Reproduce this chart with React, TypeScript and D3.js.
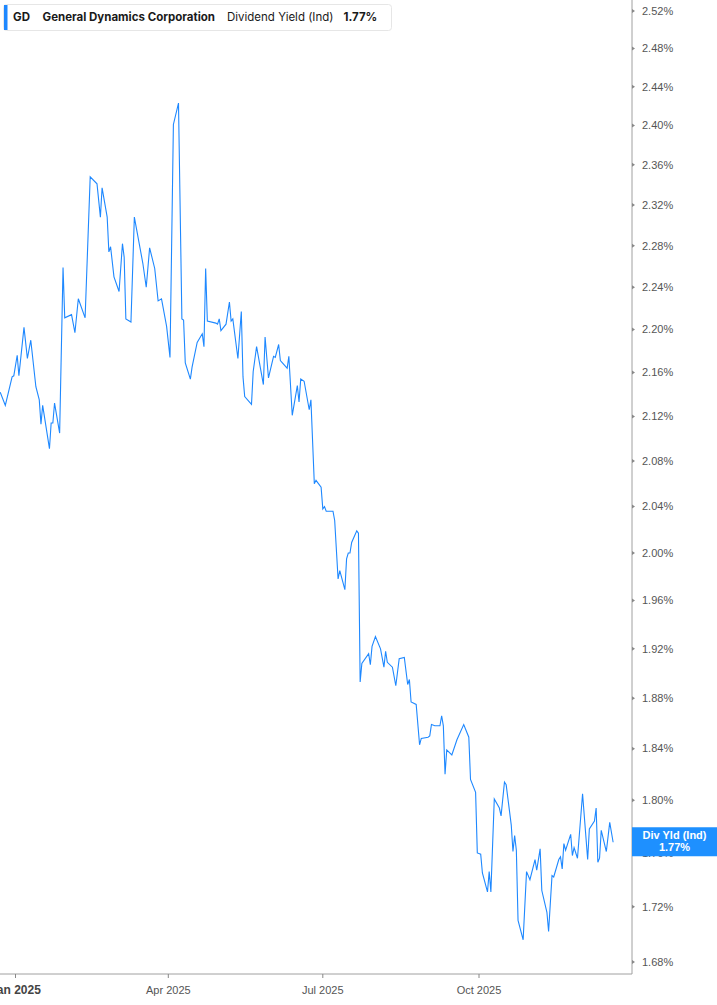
import { line, scaleLog, scaleUtc, utcParse } from 'd3';
import React from 'react';

const WIDTH = 717;
const HEIGHT = 1005;
const PLOT_RIGHT = 632;
const PLOT_BOTTOM = 974;
const LINE_COLOR = '#1e88ff';

// Dividend yield (indicated), %
const dates = [
  '2024-12-23', '2024-12-26', '2024-12-30', '2024-12-31', '2025-01-02', '2025-01-03', '2025-01-06', '2025-01-08',
  '2025-01-10', '2025-01-13', '2025-01-15', '2025-01-16', '2025-01-17', '2025-01-21', '2025-01-22', '2025-01-23',
  '2025-01-24', '2025-01-27', '2025-01-29', '2025-01-30', '2025-02-03', '2025-02-05', '2025-02-07', '2025-02-11',
  '2025-02-14', '2025-02-18', '2025-02-20', '2025-02-21', '2025-02-24', '2025-02-25', '2025-02-26', '2025-02-28',
  '2025-03-03', '2025-03-05', '2025-03-06', '2025-03-07', '2025-03-10', '2025-03-12', '2025-03-17', '2025-03-19',
  '2025-03-21', '2025-03-24', '2025-03-26', '2025-03-28', '2025-03-31', '2025-04-02', '2025-04-04', '2025-04-07',
  '2025-04-09', '2025-04-10', '2025-04-11', '2025-04-14', '2025-04-15', '2025-04-18', '2025-04-21', '2025-04-22',
  '2025-04-23', '2025-04-24', '2025-04-29', '2025-04-30', '2025-05-01', '2025-05-02', '2025-05-05', '2025-05-07',
  '2025-05-08', '2025-05-09', '2025-05-12', '2025-05-14', '2025-05-15', '2025-05-16', '2025-05-20', '2025-05-21',
  '2025-05-23', '2025-05-27', '2025-05-28', '2025-05-30', '2025-06-02', '2025-06-03', '2025-06-05', '2025-06-06',
  '2025-06-10', '2025-06-11', '2025-06-13', '2025-06-16', '2025-06-17', '2025-06-18', '2025-06-20', '2025-06-23',
  '2025-06-24', '2025-06-26', '2025-06-27', '2025-06-30', '2025-07-01', '2025-07-02', '2025-07-03', '2025-07-07',
  '2025-07-08', '2025-07-10', '2025-07-11', '2025-07-14', '2025-07-15', '2025-07-16', '2025-07-17', '2025-07-18',
  '2025-07-21', '2025-07-22', '2025-07-23', '2025-07-24', '2025-07-28', '2025-07-29', '2025-07-30', '2025-08-01',
  '2025-08-04', '2025-08-06', '2025-08-07', '2025-08-08', '2025-08-11', '2025-08-13', '2025-08-15', '2025-08-18',
  '2025-08-20', '2025-08-21', '2025-08-22', '2025-08-25', '2025-08-27', '2025-08-28', '2025-09-01', '2025-09-02',
  '2025-09-03', '2025-09-05', '2025-09-08', '2025-09-09', '2025-09-10', '2025-09-11', '2025-09-12', '2025-09-15',
  '2025-09-18', '2025-09-22', '2025-09-25', '2025-09-26', '2025-09-29', '2025-09-30', '2025-10-02', '2025-10-03',
  '2025-10-06', '2025-10-07', '2025-10-08', '2025-10-10', '2025-10-13', '2025-10-14', '2025-10-16', '2025-10-17',
  '2025-10-20', '2025-10-21', '2025-10-22', '2025-10-23', '2025-10-24', '2025-10-27', '2025-10-29', '2025-10-31',
  '2025-11-03', '2025-11-04', '2025-11-06', '2025-11-07', '2025-11-10', '2025-11-11', '2025-11-13', '2025-11-14',
  '2025-11-17', '2025-11-18', '2025-11-19', '2025-11-20', '2025-11-21', '2025-11-24', '2025-11-25', '2025-11-26',
  '2025-11-28', '2025-12-01', '2025-12-04', '2025-12-05', '2025-12-08', '2025-12-09', '2025-12-10', '2025-12-11',
  '2025-12-12', '2025-12-15', '2025-12-17', '2025-12-19',
];

const yields = [
  2.142, 2.130, 2.156, 2.157, 2.176, 2.157, 2.202, 2.173,
  2.190, 2.147, 2.135, 2.113, 2.130, 2.091, 2.114, 2.114,
  2.132, 2.105, 2.259, 2.211, 2.214, 2.197, 2.229, 2.211,
  2.348, 2.341, 2.308, 2.337, 2.308, 2.274, 2.279, 2.250,
  2.236, 2.282, 2.269, 2.210, 2.207, 2.308, 2.263, 2.240,
  2.278, 2.258, 2.227, 2.229, 2.203, 2.174, 2.401, 2.423,
  2.210, 2.209, 2.169, 2.154, 2.165, 2.188, 2.196, 2.184,
  2.258, 2.208, 2.206, 2.205, 2.210, 2.199, 2.205, 2.226,
  2.208, 2.210, 2.173, 2.217, 2.156, 2.138, 2.131, 2.161,
  2.184, 2.149, 2.193, 2.155, 2.175, 2.174, 2.186, 2.171,
  2.164, 2.175, 2.121, 2.148, 2.133, 2.154, 2.152, 2.126,
  2.135, 2.060, 2.063, 2.057, 2.038, 2.040, 2.036, 2.036,
  2.028, 1.978, 1.985, 1.969, 1.995, 2.000, 2.000, 2.009,
  2.019, 2.017, 1.893, 1.908, 1.916, 1.907, 1.922, 1.930,
  1.920, 1.905, 1.918, 1.909, 1.905, 1.890, 1.912, 1.913,
  1.891, 1.895, 1.877, 1.875, 1.843, 1.848, 1.849, 1.850,
  1.859, 1.858, 1.858, 1.866, 1.858, 1.820, 1.839, 1.835,
  1.847, 1.859, 1.849, 1.816, 1.806, 1.760, 1.759, 1.745,
  1.731, 1.746, 1.731, 1.801, 1.794, 1.788, 1.814, 1.812,
  1.781, 1.761, 1.773, 1.762, 1.710, 1.696, 1.746, 1.740,
  1.755, 1.747, 1.763, 1.732, 1.716, 1.702, 1.743, 1.742,
  1.755, 1.757, 1.748, 1.767, 1.762, 1.774, 1.758, 1.764,
  1.756, 1.805, 1.755, 1.778, 1.784, 1.794, 1.753, 1.756,
  1.777, 1.761, 1.783, 1.768,
];

const yTicks = [1.68, 1.72, 1.76, 1.8, 1.84, 1.88, 1.92, 1.96, 2.0, 2.04, 2.08, 2.12, 2.16, 2.2, 2.24, 2.28, 2.32, 2.36, 2.4, 2.44, 2.48, 2.52];
const xTickDates = ['2025-01-01', '2025-04-01', '2025-07-01', '2025-10-01'];
const xTickLabels = ['Jan 2025', 'Apr 2025', 'Jul 2025', 'Oct 2025'];

const LAST_LABEL = '1.77%';

const parse = utcParse('%Y-%m-%d');

const App = (): JSX.Element => {
  const data = dates.map((d, i) => ({ date: parse(d) as Date, value: yields[i] }));

  const x = scaleUtc()
    .domain([parse('2025-01-01') as Date, parse('2025-10-01') as Date])
    .range([15.5, 479]);
  const y = scaleLog().domain([1.68, 2.52]).range([962, 11]);

  const path = line<{ date: Date; value: number }>()
    .x((d) => x(d.date))
    .y((d) => y(d.value))(data);

  const last = data[data.length - 1];
  const lastY = y(last.value);
  const axisFont = '"Liberation Sans", Arial, sans-serif';

  return (
    <>
      <style>{'body{margin:0;overflow:hidden}'}</style>
      <svg width={WIDTH} height={HEIGHT} viewBox={`0 0 ${WIDTH} ${HEIGHT}`} style={{ display: 'block' }}>
        <rect width={WIDTH} height={HEIGHT} fill="#fff" />
        <defs>
          <clipPath id="plot-clip">
            <rect x={0} y={0} width={PLOT_RIGHT} height={PLOT_BOTTOM} />
          </clipPath>
        </defs>

        {/* Series line */}
        <path d={path ?? ''} fill="none" stroke={LINE_COLOR} strokeWidth={1.1} clipPath="url(#plot-clip)" />

        {/* Right axis */}
        <line x1={PLOT_RIGHT} x2={PLOT_RIGHT} y1={0} y2={PLOT_BOTTOM} stroke="#a0a0a0" strokeWidth={1} />
        {yTicks.map((t) => (
          <g key={t} transform={`translate(${PLOT_RIGHT}, ${y(t)})`}>
            <path d="M0,-2L3,0L0,2Z" fill="#888" />
            <text x={10} dy="0.35em" fontSize={11} fontFamily={axisFont} fill="#555">
              {t.toFixed(2)}%
            </text>
          </g>
        ))}

        {/* Bottom axis */}
        <line x1={0} x2={PLOT_RIGHT} y1={PLOT_BOTTOM} y2={PLOT_BOTTOM} stroke="#a0a0a0" strokeWidth={1} />
        {xTickDates.map((d, i) => {
          const px = x(parse(d) as Date);
          return (
            <g key={d} transform={`translate(${px}, ${PLOT_BOTTOM})`}>
              <line y1={0} y2={4} stroke="#888" />
              <text
                y={20}
                textAnchor="middle"
                fontSize={i === 0 ? 12 : 11}
                fontWeight={i === 0 ? 700 : 400}
                fontFamily={axisFont}
                fill={i === 0 ? '#444' : '#555'}
              >
                {xTickLabels[i]}
              </text>
            </g>
          );
        })}

        {/* Last value label */}
        <g transform={`translate(${PLOT_RIGHT}, ${lastY - 15})`}>
          <rect width={WIDTH - PLOT_RIGHT} height={29} fill="#1e90ff" />
          <text x={(WIDTH - PLOT_RIGHT) / 2} y={12} textAnchor="middle" fontSize={11} fontWeight={700} fontFamily={axisFont} fill="#fff">
            Div Yld (Ind)
          </text>
          <text x={(WIDTH - PLOT_RIGHT) / 2} y={24} textAnchor="middle" fontSize={11} fontWeight={700} fontFamily={axisFont} fill="#fff">
            {LAST_LABEL}
          </text>
        </g>

        {/* Legend */}
        <g fontFamily="Inter, 'Noto Sans', sans-serif" fontSize={11.5} fill="#1a1a1a">
          <rect x={3.5} y={4.5} width={388} height={26} rx={3} fill="#fff" stroke="#e6e6e6" />
          <rect x={4} y={5} width={3.5} height={25} fill={LINE_COLOR} />
          <text x={13} y={21} fontWeight={700}>GD</text>
          <text x={42.5} y={21} fontWeight={700}>General Dynamics Corporation</text>
          <text x={227} y={21} fontWeight={400}>Dividend Yield (Ind)</text>
          <text x={343.5} y={21} fontWeight={700}>{LAST_LABEL}</text>
        </g>
      </svg>
    </>
  );
};

export default App;
